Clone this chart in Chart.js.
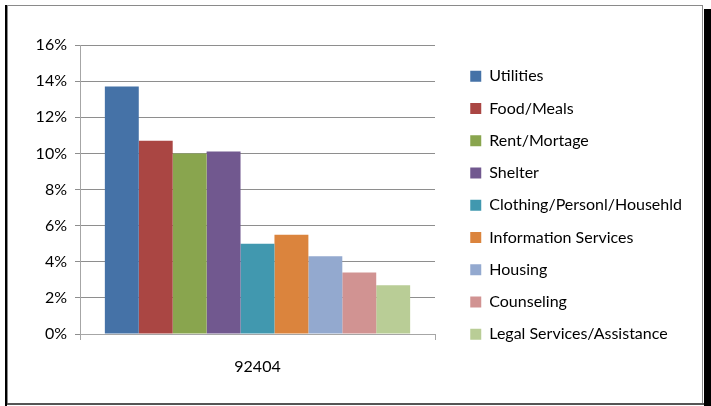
<!DOCTYPE html>
<html>
<head>
<meta charset="utf-8">
<script src="https://cdn.jsdelivr.net/npm/chart.js@4"></script>
<style>
html,body{margin:0;padding:0;background:#fff;}
#wrap{position:relative;width:711px;height:406px;overflow:hidden;}
#c{position:absolute;left:0;top:0;}
.b{position:absolute;box-sizing:border-box;}
</style>
</head>
<body>
<div id="wrap">
<canvas id="c" width="711" height="406"></canvas>
<div class="b" style="left:7px;top:5px;width:696px;height:399px;border:1px solid #8a8a8a;"></div>
<div class="b" style="left:7px;top:403px;width:697px;height:2px;background:#555"></div>
<div class="b" style="left:5px;top:5px;width:2px;height:401px;background:#000"></div>
<div class="b" style="left:704px;top:9px;width:7px;height:397px;background:#000"></div>
</div>
<script>
const categories = ["92404"];
const seriesNames = ["Utilities","Food/Meals","Rent/Mortage","Shelter","Clothing/Personl/Househld","Information Services","Housing","Counseling","Legal Services/Assistance"];
const seriesValues = [13.7, 10.7, 10.0, 10.1, 5.0, 5.5, 4.3, 3.4, 2.7];
const seriesColors = ["#4572A7","#AA4643","#89A54E","#71588F","#4198AF","#DB843D","#93A9CF","#D19392","#B9CD96"];
const yTicks = [0,2,4,6,8,10,12,14,16];

const FONT = 'Lato';

const legendFix = {
  id:'legendFix',
  beforeLayout(chart){
    const lg = chart.legend;
    if(lg && !lg._patched){
      const orig = lg.fit.bind(lg);
      lg.fit = function(){
        this.maxWidth = 400;
        orig();
        this.width = 276;
      };
      lg._patched = true;
    }
  },
  afterLayout(chart){
    const lg = chart.legend;
    if(lg){
      lg.left = 454;
      lg.top = 52;
    }
  }
};

function build(){
  const datasets = seriesNames.map((n,i)=>({
    label:n,
    data:[seriesValues[i]],
    backgroundColor:seriesColors[i],
    borderWidth:0,
    categoryPercentage:0.86,
    barPercentage:1.0
  }));

  new Chart(document.getElementById('c'),{
    type:'bar',
    data:{labels:categories,datasets},
    plugins:[legendFix],
    options:{
      responsive:false,
      animation:false,
      devicePixelRatio:1,
      layout:{padding:{left:30,top:45,right:0,bottom:0}},
      plugins:{
        tooltip:{enabled:false},
        legend:{
          position:'right',
          align:'start',
          labels:{
            boxWidth:11,boxHeight:11,padding:16.25,
            color:'#000',
            font:{family:FONT,size:16}
          }
        }
      },
      scales:{
        x:{
          grid:{drawOnChartArea:false,drawTicks:true,tickLength:6,color:'#a6a6a6',offset:true},
          border:{color:'#a6a6a6'},
          ticks:{color:'#000',font:{family:FONT,size:16},padding:17},
          afterFit(s){s.height=72;}
        },
        y:{
          min:0,max:16,
          afterBuildTicks(s){s.ticks=yTicks.map(v=>({value:v}));},
          grid:{color:'#8e8e8e',tickLength:5,drawTicks:true},
          border:{color:'#a6a6a6'},
          ticks:{color:'#000',font:{family:FONT,size:16},padding:8,callback:v=>v+'%'},
          afterFit(s){s.width=50;}
        }
      }
    }
  });
}
if(document.fonts && document.fonts.load){
  document.fonts.load('16px ' + FONT).then(build, build);
} else { build(); }
</script>
</body>
</html>
